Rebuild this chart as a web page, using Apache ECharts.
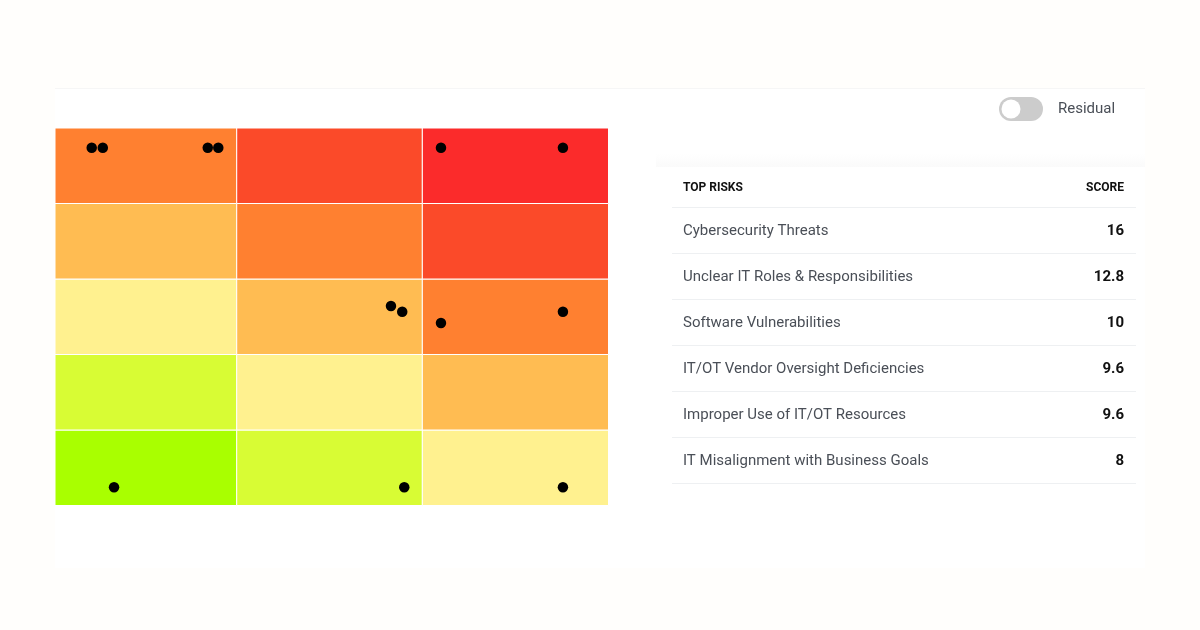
<!DOCTYPE html>
<html>
<head>
<meta charset="utf-8">
<style>
  html, body { margin: 0; padding: 0; background: #fffefc; }
  #chart { width: 1200px; height: 630px; }
</style>
<script src="https://cdn.jsdelivr.net/npm/echarts@6/dist/echarts.min.js"></script>
</head>
<body>
<div id="chart"></div>
<script>
// heat map
const xEdges = [0, 0.985, 1.991, 3]
const yEdges = [0, 1, 2, 3, 4, 5]
const levelColors = ['#a9ff00', '#d8fc34', '#fff18f', '#ffbc52', '#ff8030', '#fb4a29', '#fb2b2b']
// bottom row first
const cellLevels = [
  [0, 1, 2],
  [1, 2, 3],
  [2, 3, 4],
  [3, 4, 5],
  [4, 5, 6],
]
const dotX = [0.199, 0.259, 0.828, 0.885, 2.092, 2.753, 1.821, 1.882, 2.092, 2.753, 0.32, 1.893, 2.753]
const dotY = [4.739, 4.739, 4.739, 4.739, 4.739, 4.739, 2.642, 2.567, 2.417, 2.567, 0.241, 0.241, 0.241]

// table
const riskNames = [
  'Cybersecurity Threats',
  'Unclear IT Roles & Responsibilities',
  'Software Vulnerabilities',
  'IT/OT Vendor Oversight Deficiencies',
  'Improper Use of IT/OT Resources',
  'IT Misalignment with Business Goals',
]
const riskScores = ['16', '12.8', '10', '9.6', '9.6', '8']

const cells = []
cellLevels.forEach(function (row, r) {
  row.forEach(function (level, c) {
    cells.push([c, r, level])
  })
})

const font = 'Roboto'
const graphics = [
  { type: 'rect', silent: true, z: -2, shape: { x: 55, y: 88, width: 1090, height: 480 }, style: { fill: '#ffffff' } },
  { type: 'rect', silent: true, shape: { x: 55, y: 88, width: 1090, height: 1 }, style: { fill: '#f6f6f6' } },
  { type: 'rect', silent: true, shape: { x: 656, y: 154, width: 489, height: 13 },
    style: { fill: new echarts.graphic.LinearGradient(0, 0, 0, 1, [{ offset: 0, color: '#ffffff' }, { offset: 1, color: '#fafafa' }]) } },
  // residual switch
  { type: 'rect', silent: true, shape: { x: 999, y: 97, width: 44, height: 24, r: 12 }, style: { fill: '#cccccc' } },
  { type: 'circle', silent: true, shape: { cx: 1011, cy: 109, r: 9.5 }, style: { fill: '#ffffff' } },
  { type: 'text', silent: true, x: 1058, y: 109, style: { text: 'Residual', font: '15px ' + font, fill: '#4a4f57', verticalAlign: 'middle' } },
  // table header
  { type: 'text', silent: true, x: 683, y: 188, style: { text: 'TOP RISKS', font: 'bold 12px ' + font, fill: '#111111', verticalAlign: 'middle' } },
  { type: 'text', silent: true, x: 1124, y: 188, style: { text: 'SCORE', font: 'bold 12px ' + font, fill: '#111111', align: 'right', verticalAlign: 'middle' } },
  { type: 'rect', silent: true, shape: { x: 672, y: 207, width: 464, height: 1 }, style: { fill: '#eef0f2' } },
]
riskNames.forEach(function (name, i) {
  const top = 208 + i * 46
  graphics.push(
    { type: 'text', silent: true, x: 683, y: top + 23, style: { text: name, font: '15px ' + font, fill: '#4a4f57', verticalAlign: 'middle' } },
    { type: 'text', silent: true, x: 1124, y: top + 23, style: { text: riskScores[i], font: 'bold 15px ' + font, fill: '#111111', align: 'right', verticalAlign: 'middle' } },
    { type: 'rect', silent: true, shape: { x: 672, y: top + 45, width: 464, height: 1 }, style: { fill: '#eef0f2' } }
  )
})

const chart = echarts.init(document.getElementById('chart'))
chart.setOption({
  animation: false,
  backgroundColor: '#fffefc',
  grid: { left: 55, top: 128, width: 553.5, height: 377.5 },
  xAxis: { type: 'value', min: 0, max: 3, show: false },
  yAxis: { type: 'value', min: 0, max: 5, show: false },
  graphic: graphics,
  series: [
    {
      type: 'custom',
      silent: true,
      data: cells,
      renderItem: function (params, api) {
        const c = api.value(0)
        const r = api.value(1)
        const p0 = api.coord([xEdges[c], yEdges[r + 1]])
        const p1 = api.coord([xEdges[c + 1], yEdges[r]])
        return {
          type: 'rect',
          shape: { x: p0[0], y: p0[1], width: p1[0] - p0[0], height: p1[1] - p0[1] },
          style: { fill: levelColors[api.value(2)], stroke: '#ffffff', lineWidth: 1 },
        }
      },
    },
    {
      type: 'scatter',
      silent: true,
      z: 5,
      symbolSize: 10.5,
      itemStyle: { color: '#000000', opacity: 1 },
      data: dotX.map(function (x, i) { return [x, dotY[i]] }),
    },
  ],
})
</script>
</body>
</html>
